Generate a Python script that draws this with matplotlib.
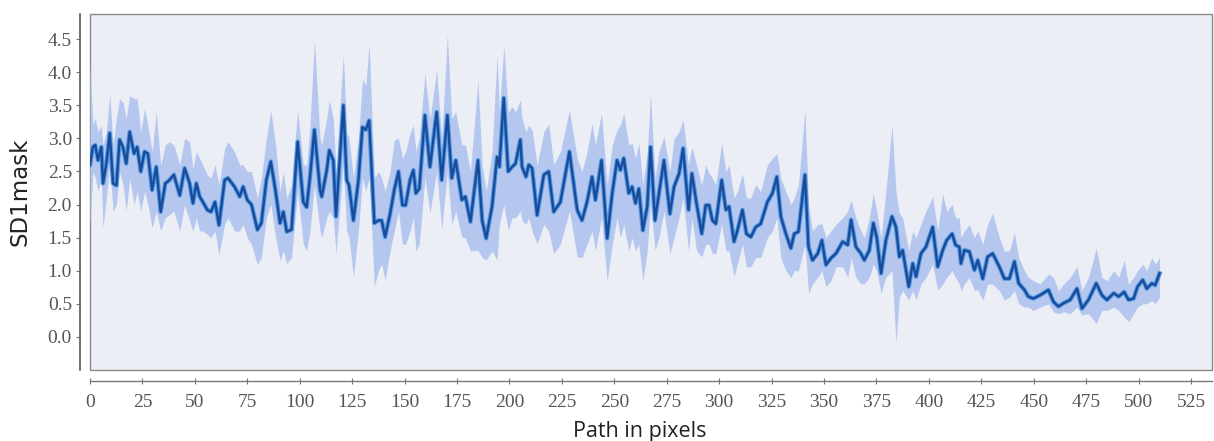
import matplotlib
matplotlib.use("Agg")
import matplotlib.pyplot as plt
from matplotlib.patches import Rectangle
import numpy as np

# ---- data ----
path_x = [0, 1.4, 2.5, 3.8, 5.4, 6.2, 7.8, 9.4, 11, 12.6, 14.1, 15.7, 17.3, 18.9, 21, 22.5, 24.2, 26, 27.6, 29.6,
          31.6, 33.7, 35.9, 37.9, 40, 42.8, 45.1, 47.5, 49.1, 50.7, 52.3, 53.8, 55.9, 57.7, 59.6, 61.5, 64.2, 65.8,
          68.9, 71.4, 73, 75, 77, 79.8, 81.7, 84.1, 86.2,
          88.5, 90.6, 92.2, 93.8, 96.1, 99, 101.7, 103.3, 104.9, 107, 109.7, 110.5, 112.9, 114.1, 116, 117.3, 120.8,
          122.4, 123.5, 125.6, 128, 129.9, 131.5, 133.1, 135.6, 137.5, 139.1, 140.7, 143.1, 145.1, 147.1, 149, 150.5,
          152.6, 154.2, 155.4, 157, 159.7, 162.1, 165.3, 167.7, 170.4, 172.5, 174.4, 177.3,
          179, 181.4, 185, 187, 188.9, 191.7, 194.1, 195.2, 197.3, 199.4, 201.3, 202.9, 205.2, 206, 207.9, 209.2,
          210.8, 213.2, 216.4, 218.7, 221.1, 224.3, 228.6, 232.3, 234.6, 237, 239.4, 241, 243.9, 246.6, 249, 251.3,
          252.9, 254.5, 256.9, 258.5, 260.1, 261.7, 263.6, 265.7,
          267.3, 269.4, 271.3, 273.7, 276.5, 278.5, 280.9, 282.8, 285.4, 287, 289.2, 291.7, 293.6, 295.2, 296.8,
          298.4, 301.2, 303.2, 304.7, 307.1, 308.7, 311.1, 313, 315.1, 317.4, 319.8, 323, 325.4, 327.5, 329.4,
          331.8, 334.2, 335.8, 337.8, 340.9, 342.6, 344.5, 347, 349, 350.9, 353.3, 355.7,
          358.9, 361.3, 362.9, 365.2, 367.6, 369.2, 371.6, 373.5, 375.1, 377.2, 379.5, 382.4, 384.3, 385.9, 387.5,
          390.4, 392.3, 393.9, 396.2, 398.6, 401.8, 404.2, 406.6, 408.5, 411.1, 412.7, 414.5, 415.3, 416.9, 419.3,
          421.7, 423.3, 425.7, 428, 430.4, 433.6, 436, 438.4, 440.8, 442.8, 445.6,
          447.4, 449.8, 453, 457, 459.4, 461.8, 464.2, 467.4, 470.6, 473, 476.1, 479.8, 482.5, 484.9, 488.1, 490.5,
          493.1, 495.2, 497.6, 499.5, 502, 503.9, 506.3, 507.9, 510]

sd1_mean = [2.6, 2.87, 2.90, 2.67, 2.87, 2.32, 2.62, 3.08, 2.32, 2.29, 2.98, 2.87, 2.62, 3.10, 2.77, 2.87, 2.50, 2.80,
            2.77, 2.22, 2.57, 1.89, 2.32, 2.37, 2.45, 2.14, 2.55, 2.32, 2.02, 2.32, 2.12, 2.04, 1.92, 1.89, 2.04, 1.69,
            2.37, 2.40, 2.27, 2.12, 2.27, 2.07, 2.00, 1.62, 1.72, 2.37, 2.65,
            2.2, 1.72, 1.89, 1.59, 1.62, 2.95, 2.04, 1.96, 2.42, 3.13, 2.22, 2.12, 2.52, 2.82, 2.67, 1.82, 3.50, 2.37,
            2.29, 1.76, 2.37, 3.17, 3.13, 3.27, 1.72, 1.76, 1.76, 1.51, 1.86, 2.22, 2.50, 1.99, 1.99, 2.37, 2.52, 2.17,
            2.24, 3.35, 2.57, 3.40, 2.37, 3.35, 2.40, 2.67, 2.07,
            2.12, 1.74, 2.67, 1.76, 1.49, 1.97, 2.72, 2.57, 3.61, 2.50, 2.57, 2.62, 2.98, 2.57, 2.42, 2.60, 2.55, 1.84,
            2.45, 2.50, 1.89, 2.04, 2.80, 1.92, 1.76, 2.04, 2.42, 2.07, 2.67, 1.49, 2.17, 2.67, 2.52, 2.70, 2.17, 2.27,
            2.02, 2.24, 1.61, 1.97,
            2.87, 1.76, 2.17, 2.67, 1.86, 2.27, 2.47, 2.85, 1.92, 2.47, 2.02, 1.56, 1.99, 1.99, 1.76, 1.71, 2.37, 1.92,
            1.97, 1.44, 1.61, 1.92, 1.56, 1.51, 1.66, 1.71, 2.04, 2.17, 2.42, 1.82, 1.56, 1.34, 1.56, 1.59, 2.45, 1.36,
            1.16, 1.26, 1.46, 1.09, 1.19, 1.26,
            1.44, 1.39, 1.77, 1.36, 1.26, 1.16, 1.31, 1.72, 1.51, 0.96, 1.46, 1.82, 1.66, 1.21, 1.31, 0.76, 1.11, 0.91,
            1.26, 1.36, 1.66, 1.06, 1.31, 1.46, 1.56, 1.39, 1.36, 1.11, 1.31, 1.29, 1.01, 1.16, 0.88, 1.21, 1.26, 1.06,
            0.88, 0.88, 1.14, 0.81, 0.71,
            0.61, 0.58, 0.63, 0.71, 0.53, 0.46, 0.51, 0.56, 0.73, 0.43, 0.56, 0.81, 0.63, 0.56, 0.66, 0.61, 0.68, 0.56,
            0.58, 0.76, 0.86, 0.73, 0.81, 0.78, 0.96]

sd1_upper = [4.1, 3.2, 3.3, 3.1, 3.2, 2.9, 3.1, 3.68, 2.9, 3.3, 3.6, 3.55, 3.3, 3.65, 3.6, 3.6, 3.1, 3.45, 3.2, 2.8,
             3.4, 2.6, 2.9, 2.95, 2.9, 2.6, 3.0, 2.95, 2.55, 2.8, 2.7, 2.6, 2.45, 2.4, 2.6, 2.3, 2.85, 2.95, 2.8, 2.6,
             2.6, 2.5, 2.5, 2.1, 2.4, 3.0, 3.43,
             2.9, 2.2, 2.5, 2.1, 2.3, 3.43, 2.6, 2.6, 3.2, 4.49, 3.0, 2.9, 3.3, 3.58, 3.3, 2.5, 4.28, 3.1, 3.0, 2.4, 3.0,
             3.9, 3.8, 4.43, 2.4, 2.5, 2.4, 2.2, 2.5, 2.98, 3.0, 2.7, 2.8, 3.08, 3.2, 2.8, 3.0, 3.98, 3.3, 4.03, 3.0,
             4.56, 3.3, 3.4, 2.9,
             2.9, 2.5, 3.88, 2.6, 2.2, 2.8, 4.26, 3.4, 4.41, 3.4, 3.48, 3.4, 3.58, 3.3, 3.1, 3.2, 3.13, 2.6, 3.1, 3.22,
             2.6, 2.8, 3.43, 2.7, 2.5, 2.8, 3.22, 2.9, 3.38, 2.3, 2.9, 3.13, 3.2, 3.38, 2.9, 2.93, 2.7, 2.93, 2.3, 2.8,
             3.68, 2.4, 2.8, 3.03, 2.5, 3.0, 3.1, 3.28, 2.6, 2.87, 2.6, 2.3, 2.6, 2.47, 2.4, 2.3, 2.93, 2.5, 2.6, 2.1,
             2.2, 2.47, 2.1, 2.1, 2.3, 2.2, 2.6, 2.7, 2.77, 2.4, 2.2, 2.0, 2.1, 2.3, 3.43, 2.0, 1.6, 1.7, 1.71, 1.5,
             1.6, 1.7,
             1.8, 1.9, 2.07, 1.8, 1.6, 1.5, 1.8, 2.17, 1.9, 1.5, 2.2, 3.2, 2.2, 1.87, 1.8, 1.3, 1.6, 1.5, 1.7, 1.9,
             2.12, 1.6, 2.17, 1.9, 2.0, 1.8, 1.8, 1.5, 1.6, 1.7, 1.5, 1.6, 1.4, 1.7, 1.87, 1.5, 1.3, 1.3, 1.57, 1.2,
             1.0,
             0.9, 0.85, 0.8, 0.95, 0.9, 0.7, 0.8, 0.9, 1.06, 0.7, 0.9, 1.34, 0.9, 0.85, 1.0, 0.9, 1.16, 0.8, 0.9, 1.0,
             1.1, 1.0, 1.2, 1.1, 1.2]

sd1_lower = [1.7, 2.5, 2.4, 2.2, 2.4, 1.65, 2.1, 2.6, 1.9, 2.0, 2.5, 2.3, 1.9, 2.4, 2.0, 2.2, 1.9, 2.2, 2.0, 1.65,
             1.9, 1.6, 1.8, 1.85, 1.9, 1.6, 2.0, 1.75, 1.6, 1.8, 1.6, 1.6, 1.55, 1.5, 1.6, 1.24, 1.7, 1.8, 1.6, 1.6,
             1.7, 1.5, 1.4, 1.09, 1.2, 1.8, 2.0,
             1.5, 1.16, 1.3, 1.11, 1.2, 2.2, 1.4, 1.3, 1.6, 2.3, 1.6, 1.5, 1.8, 1.9, 1.8, 1.26, 2.6, 1.6, 1.5, 0.91,
             1.6, 2.4, 2.2, 2.4, 0.76, 1.0, 1.1, 0.86, 1.3, 1.6, 1.9, 1.4, 1.4, 1.6, 1.8, 1.3, 1.4, 2.4, 1.87, 2.5,
             1.62, 2.5, 1.7, 1.9, 1.51,
             1.5, 1.3, 1.31, 1.2, 1.16, 1.3, 1.16, 1.7, 2.0, 1.61, 1.8, 1.8, 1.9, 1.76, 1.7, 1.8, 1.6, 1.41, 1.7, 1.6,
             1.26, 1.4, 1.9, 1.21, 1.2, 1.4, 1.6, 1.3, 1.8, 0.84, 1.4, 1.8, 1.5, 1.7, 1.3, 1.5, 1.3, 1.4, 0.84, 1.3,
             2.0, 1.31, 1.5, 1.9, 1.26, 1.5, 1.8, 2.1, 1.3, 1.8, 1.3, 1.21, 1.4, 1.4, 1.26, 1.26, 1.7, 1.3, 1.3, 0.91,
             1.1, 1.4, 1.06, 1.06, 1.2, 1.2, 1.5, 1.6, 1.8, 1.2, 1.0, 0.9, 1.0, 1.0, 1.4, 0.66, 0.8, 0.9, 1.0, 0.76,
             0.85, 1.06,
             1.06, 0.9, 1.2, 0.9, 0.8, 0.8, 0.9, 1.1, 1.0, 0.66, 0.9, 1.0, -0.10, 0.6, 0.7, 0.56, 0.7, 0.56, 0.8, 0.9,
             1.1, 0.7, 0.8, 0.9, 1.0, 0.9, 0.8, 0.7, 0.8, 0.9, 0.7, 0.71, 0.55, 0.8, 0.8, 0.7, 0.56, 0.6, 0.7, 0.5,
             0.45,
             0.45, 0.4, 0.45, 0.5, 0.38, 0.35, 0.38, 0.35, 0.45, 0.33, 0.35, 0.2, 0.4, 0.4, 0.45, 0.4, 0.3, 0.23, 0.35,
             0.45, 0.5, 0.5, 0.55, 0.5, 0.6]

x_ticks = [0, 25, 50, 75, 100, 125, 150, 175, 200, 225, 250, 275, 300, 325, 350, 375, 400, 425, 450, 475, 500, 525]
y_ticks = [0.0, 0.5, 1.0, 1.5, 2.0, 2.5, 3.0, 3.5, 4.0, 4.5]
x_label = "Path in pixels"
y_label = "SD1mask"

# ---- figure ----
W, H = 1214, 441
fig = plt.figure(figsize=(W / 100, H / 100), dpi=100, facecolor="white")
ax = fig.add_axes([90 / W, 1 - 370 / H, (1212 - 90) / W, (370 - 14) / H])
ax.set_facecolor("none")
ax.add_patch(Rectangle((0, 0), 1, 1, transform=ax.transAxes, facecolor="#eceef5",
                       edgecolor="#8a8a8a", linewidth=1.0, zorder=0, clip_on=False))

ax.fill_between(path_x, sd1_lower, sd1_upper, color="#b6c7ef", linewidth=0, zorder=2)
ax.plot(path_x, sd1_mean, color="#4f9be6", linewidth=3.2, zorder=3, solid_joinstyle="round")
ax.plot(path_x, sd1_mean, color="#1b4a98", linewidth=1.7, zorder=4, solid_joinstyle="round")

ax.set_xlim(0, 535)
ax.set_ylim(-0.5, 4.88)

for s in ["top", "right"]:
    ax.spines[s].set_visible(False)
ax.spines["left"].set_position(("outward", 7))
ax.spines["bottom"].set_position(("outward", 8))
ax.spines["left"].set_color("#555555")
ax.spines["bottom"].set_color("#777777")
ax.spines["left"].set_linewidth(1.2)
ax.spines["bottom"].set_linewidth(1.0)

ax.set_xticks(x_ticks)
ax.set_yticks(y_ticks)
ax.set_yticklabels([f"{v:.1f}" for v in y_ticks])
ax.tick_params(axis="both", colors="#777777", labelcolor="#555555", labelsize=14,
               length=3, width=0.8)
ax.tick_params(axis="x", direction="inout", length=5, pad=7)
ax.tick_params(axis="y", direction="out", pad=3)
for lab in ax.get_xticklabels() + ax.get_yticklabels():
    lab.set_fontfamily(["Liberation Serif", "DejaVu Serif"])

ax.set_xlabel(x_label, fontsize=15.5, family=["Open Sans", "DejaVu Sans"], color="#222222")
ax.xaxis.set_label_coords(0.49, -0.143)
ax.set_ylabel(y_label, fontsize=16.5, family=["DejaVu Sans"], color="#222222")
ax.yaxis.set_label_coords(-0.0525, 0.5)

fig.savefig("out.png", dpi=100, facecolor="white")
